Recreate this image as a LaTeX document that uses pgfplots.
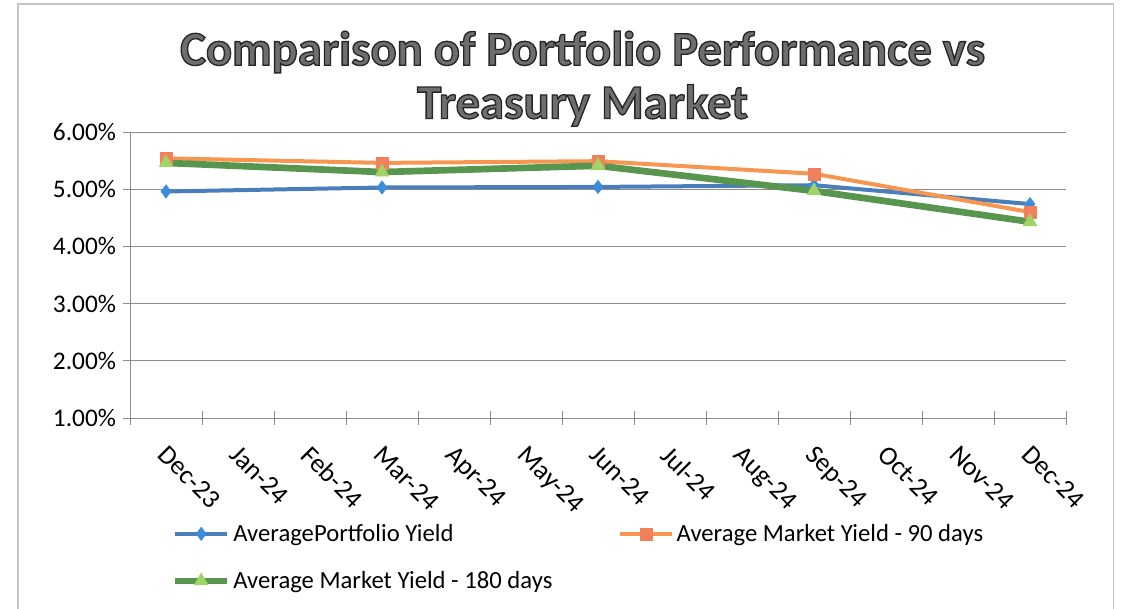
\documentclass[border=0pt]{standalone}
\usepackage{pgfplots}
\pgfplotsset{compat=1.18}
\usepackage{fontspec}
\setmainfont{Carlito}
\definecolor{blueline}{RGB}{74,126,187}
\definecolor{bluemark}{RGB}{60,140,220}
\definecolor{orangeline}{RGB}{247,150,80}
\definecolor{orangemark}{RGB}{242,128,92}
\definecolor{greenline}{RGB}{88,150,80}
\definecolor{greenmark}{RGB}{160,212,104}
\definecolor{gridgray}{RGB}{140,140,140}
\definecolor{titlefill}{RGB}{110,110,110}
\newcommand\outlined[1]{{\color{titlefill}\special{pdf:literal direct 2 Tr 1 w 0.15 0.15 0.15 RG}#1\special{pdf:literal direct 0 Tr}}}
\pgfplotstableread{
x portfolio m90 m180
0 4.96 5.54 5.46
3 5.03 5.46 5.30
6 5.04 5.49 5.41
9 5.07 5.27 4.97
12 4.74 4.60 4.43
}\yields
\begin{document}
\begin{tikzpicture}
\useasboundingbox (0,0) rectangle (842.25pt,456pt);
\draw[gray!45, line width=0.8pt] (13.5pt,-5pt) rectangle (835pt,453pt);
\node[font=\fontsize{36.5}{40}\selectfont\bfseries, align=center] at (437pt,397pt)
  {\outlined{Comparison of Portfolio Performance vs}\\\outlined{Treasury Market}};
\begin{axis}[
  at={(97.5pt,142.5pt)}, anchor=south west,
  scale only axis, width=702pt, height=214.5pt,
  xmin=-0.5, xmax=12.5, ymin=1, ymax=6,
  axis x line=bottom, axis y line=left,
  axis line style={-, gridgray, line width=0.6pt},
  xtick={0,...,12},
  xticklabels={Dec-23,Jan-24,Feb-24,Mar-24,Apr-24,May-24,Jun-24,Jul-24,Aug-24,Sep-24,Oct-24,Nov-24,Dec-24},
  minor xtick={-0.5,0.5,...,12.5},
  major x tick style={draw=none},
  minor x tick style={gridgray, line width=0.6pt},
  xtick align=center, ytick align=outside,
  minor tick length=11pt, major tick length=5pt,
  ytick={1,2,3,4,5,6},
  y tick style={gridgray, line width=0.6pt},
  ymajorgrids, grid style={gridgray, line width=0.6pt},
  /pgf/number format/assume math mode=true,
  yticklabel={\pgfmathprintnumber[fixed,fixed zerofill,precision=2]{\tick}\%},
  yticklabel style={font=\fontsize{19}{22}\selectfont, xshift=-2pt},
  xticklabel style={font=\fontsize{20}{22}\selectfont, rotate=-45, anchor=north west, xshift=10pt, yshift=-7pt},
  legend columns=2,
  legend cell align=left,
  legend style={draw=none, fill=none, font=\fontsize{18.5}{22}\selectfont,
    at={(0.04,-0.352)}, anchor=north west, row sep=17pt,
    /tikz/every even column/.append style={column sep=47pt}},
  legend image code/.code={\draw[mark repeat=2,mark phase=2] plot coordinates {(0cm,0cm) (0.69cm,0cm) (1.38cm,0cm)};},
  clip=false,
]
\addplot[blueline, line width=3pt, mark=diamond*, mark size=5pt, mark options={fill=bluemark, draw=bluemark, line width=0.4pt}] table[x=x,y=portfolio]{\yields};
\addlegendentry{AveragePortfolio Yield}
\addplot[orangeline, line width=3pt, mark=square*, mark size=4.5pt, mark options={fill=orangemark, draw=orangemark, line width=0.4pt}] table[x=x,y=m90]{\yields};
\addlegendentry{Average Market Yield - 90 days}
\addplot[greenline, line width=5pt, mark=triangle*, mark size=6pt, mark options={fill=greenmark, draw=greenmark, line width=0.4pt}] table[x=x,y=m180]{\yields};
\addlegendentry{Average Market Yield - 180 days}
\end{axis}
\end{tikzpicture}
\end{document}
